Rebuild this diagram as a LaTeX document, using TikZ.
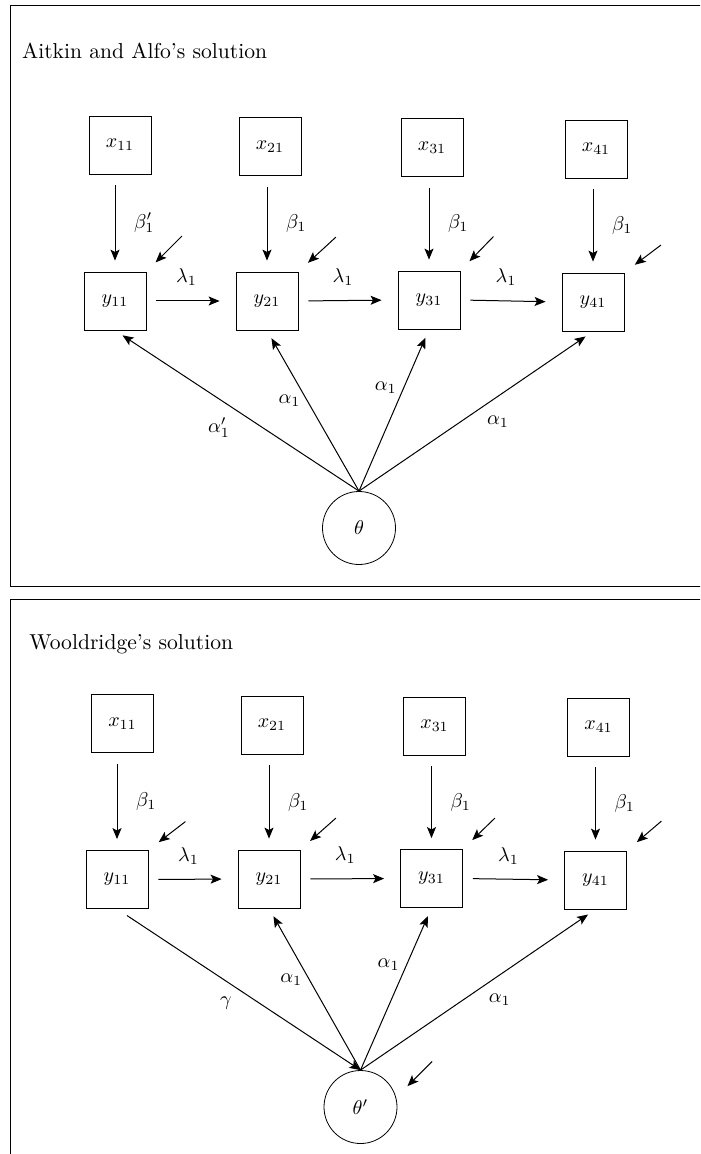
\documentclass[tikz,border=0pt]{standalone}
\usepackage{amsmath}
\usepackage{tikz}
\usetikzlibrary{calc,arrows.meta,positioning}
\tikzstyle{observed} = [rectangle, draw, text centered, minimum width=31pt, minimum height=29pt, inner sep=0pt]
\tikzstyle{latent} = [circle, draw, text centered, minimum size=36.5pt, inner sep=0pt]
\tikzstyle{connector} = [line width=0.5pt, -{Stealth[length=5.5pt, width=4.5pt, inset=1.2pt]}]
\tikzstyle{loading} = [connector, shorten <=5.5pt, shorten >=5.5pt]
\tikzstyle{lag} = [connector, shorten <=5pt, shorten >=8pt]
\tikzstyle{factor} = [connector, shorten >=4.5pt]
\tikzstyle{disturbance} = [connector, shorten >=6.5pt]
\tikzstyle{panelframe} = [draw, line width=0.5pt]
\tikzstyle{heading} = [anchor=base west, inner sep=0pt, font=\fontsize{10.8}{13}\selectfont]

\begin{document}
\begin{tikzpicture}[x=0.5pt, y=-0.5pt]
            \useasboundingbox (0,0) rectangle (700,1154);
            \clip (0,0) rectangle (700,1154);
            \draw [panelframe] (10,6) rectangle (720,586);
            \node (title1) [heading] at (21.7,59) {Aitkin and Alfo's solution};
            \node (x11) [observed] at (120,145) {$x_{11}$};
            \node (x21) [observed] at (270,146.5) {$x_{21}$};
            \node (x31) [observed] at (432,147.5) {$x_{31}$};
            \node (x41) [observed] at (596,149) {$x_{41}$};
            \node (y11) [observed] at (115,301) {$y_{11}$};
            \node (y21) [observed] at (267,301) {$y_{21}$};
            \node (y31) [observed] at (429,300) {$y_{31}$};
            \node (y41) [observed] at (593,302) {$y_{41}$};
            \node (th) [latent] at (359,528) {$\theta$};
            \coordinate (e11) at ($(y11.north east)+(35.5,-35.5)$);
            \coordinate (e21) at ($(y21.north east)+(37.5,-34.5)$);
            \coordinate (e31) at ($(y31.north east)+(33,-34)$);
            \coordinate (e41) at ($(y41.north east)+(36.5,-27.5)$);
            \draw [loading] (x11.south -| y11.north) -- node[right=6pt] {$\beta'_1$} (y11.north);
            \draw [loading] (x21.south -| y21.north) -- node[right=6pt] {$\beta_1$} (y21.north);
            \draw [loading] (x31.south -| y31.north) -- node[right=6pt] {$\beta_1$} (y31.north);
            \draw [loading] (x41.south -| y41.north) -- node[right=6pt] {$\beta_1$} (y41.north);
            \draw [lag] (y11.east) -- node[pos=0.45, above=4pt] {$\lambda_1$} (y21.west);
            \draw [lag] (y21.east) -- node[pos=0.45, above=4pt] {$\lambda_1$} (y31.west);
            \draw [lag] (y31.east) -- node[pos=0.45, above=4pt] {$\lambda_1$} (y41.west);
            \draw [disturbance] (e11) -- (y11.north east);
            \draw [disturbance] (e21) -- (y21.north east);
            \draw [disturbance] (e31) -- (y31.north east);
            \draw [disturbance] (e41) -- (y41.north east);
            \draw [factor] (th.north) -- node[below left] {$\alpha'_1$} (y11.south);
            \draw [factor] (th.north) -- node[pos=0.56, left] {$\alpha_1$} (y21.south);
            \draw [factor] (th.north) -- node[pos=0.64, left] {$\alpha_1$} (y31.south);
            \draw [factor] (th.north) -- node[pos=0.517, below right] {$\alpha_1$} (y41.south);

            \draw [panelframe] (10,599) rectangle (720,1170);
            \node (title2) [heading] at (29,649) {Wooldridge's solution};
            \node (wx11) [observed] at (122.5,723.5) {$x_{11}$};
            \node (wx21) [observed] at (272,725) {$x_{21}$};
            \node (wx31) [observed] at (434.5,726) {$x_{31}$};
            \node (wx41) [observed] at (598.5,727) {$x_{41}$};
            \node (wy11) [observed] at (117,879.5) {$y_{11}$};
            \node (wy21) [observed] at (269,879) {$y_{21}$};
            \node (wy31) [observed] at (431.5,878.5) {$y_{31}$};
            \node (wy41) [observed] at (595.5,880) {$y_{41}$};
            \node (wth) [latent] at (360.5,1107) {$\theta'$};
            \coordinate (we11) at ($(wy11.north east)+(37,-28.5)$);
            \coordinate (we21) at ($(wy21.north east)+(35.5,-31.5)$);
            \coordinate (we31) at ($(wy31.north east)+(32,-31)$);
            \coordinate (we41) at ($(wy41.north east)+(34.5,-29.5)$);
            \coordinate (weth) at ($(wth.15)+(36,-36)$);
            \draw [loading] (wx11.south -| wy11.north) -- node[right=6pt] {$\beta_1$} (wy11.north);
            \draw [loading] (wx21.south -| wy21.north) -- node[right=6pt] {$\beta_1$} (wy21.north);
            \draw [loading] (wx31.south -| wy31.north) -- node[right=6pt] {$\beta_1$} (wy31.north);
            \draw [loading] (wx41.south -| wy41.north) -- node[right=6pt] {$\beta_1$} (wy41.north);
            \draw [lag] (wy11.east) -- node[pos=0.45, above=4pt] {$\lambda_1$} (wy21.west);
            \draw [lag] (wy21.east) -- node[pos=0.45, above=4pt] {$\lambda_1$} (wy31.west);
            \draw [lag] (wy31.east) -- node[pos=0.45, above=4pt] {$\lambda_1$} (wy41.west);
            \draw [disturbance] (we11) -- (wy11.north east);
            \draw [disturbance] (we21) -- (wy21.north east);
            \draw [disturbance] (we31) -- (wy31.north east);
            \draw [disturbance] (we41) -- (wy41.north east);
            \draw [disturbance, shorten >=8pt] (weth) -- (wth.15);
            \draw [connector, shorten <=6pt] (wy11.south) -- node[below left] {$\gamma$} (wth.north);
            \draw [factor] (wth.north) -- node[pos=0.56, left] {$\alpha_1$} (wy21.south);
            \draw [factor] (wth.north) -- node[pos=0.65, left] {$\alpha_1$} (wy31.south);
            \draw [factor] (wth.north) -- node[pos=0.516, below right] {$\alpha_1$} (wy41.south);
        \end{tikzpicture}
\end{document}
